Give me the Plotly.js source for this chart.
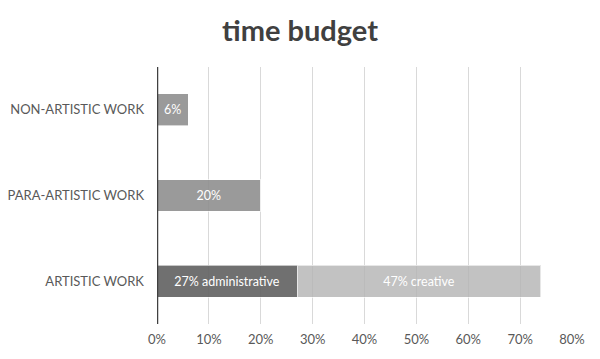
<!DOCTYPE html>
<html><head><meta charset="utf-8">
<script src="https://cdn.plot.ly/plotly-3.0.1.min.js"></script>
<style>html,body{margin:0;padding:0;background:#fff}#chart{width:600px;height:359px}</style>
</head><body><div id="chart"></div>
<script>
const categories = ["ARTISTIC WORK", "PARA-ARTISTIC WORK", "NON-ARTISTIC WORK"];
const baseValues = [27, 20, 6];
const baseLabels = ["27% administrative", "20%", "6%"];
const creativeValues = [47, 0, 0];
const creativeLabels = ["47% creative", "", ""];
const xTickVals = [0, 10, 20, 30, 40, 50, 60, 70, 80];
const xTickText = ["0%", "10%", "20%", "30%", "40%", "50%", "60%", "70%", "80%"];

const font = "Lato, 'Open Sans', sans-serif";
const traces = [
  {
    type: "bar", orientation: "h", y: categories, x: baseValues,
    text: baseLabels, textposition: "inside", insidetextanchor: "middle",
    textfont: {color: "#ffffff", size: 12.5, family: font},
    marker: {color: ["rgba(96,96,96,0.9)", "rgba(140,140,140,0.88)", "rgba(140,140,140,0.88)"],
             line: {color: "rgba(255,255,255,0.6)", width: 1}},
    hoverinfo: "none"
  },
  {
    type: "bar", orientation: "h", y: categories, x: creativeValues,
    text: creativeLabels, textposition: "inside", insidetextanchor: "middle",
    textfont: {color: "#ffffff", size: 12.5, family: font},
    marker: {color: "rgba(180,180,180,0.82)", line: {color: "rgba(255,255,255,0.6)", width: 1}},
    hoverinfo: "none"
  }
];
const layout = {
  width: 600, height: 359,
  margin: {l: 157, r: 28, t: 67, b: 35},
  paper_bgcolor: "#ffffff", plot_bgcolor: "#ffffff",
  barmode: "stack", bargap: 0.63, showlegend: false,
  font: {family: font, color: "#595959", size: 13},
  title: {text: "<b>time budget</b>", x: 0.5, xref: "container", xanchor: "center",
          y: 0.915, yref: "container", yanchor: "middle",
          font: {family: font, size: 29, color: "#404040"}},
  xaxis: {range: [0, 80], tickvals: xTickVals, ticktext: xTickText,
          showgrid: true, gridcolor: "#d9d9d9", gridwidth: 1,
          zeroline: false, showline: false, fixedrange: true,
          tickfont: {size: 13, color: "#595959"}, ticks: "", ticklabelstandoff: 6},
  yaxis: {categoryorder: "array", categoryarray: categories,
          showgrid: false, zeroline: false, showline: false,
          ticks: "", tickfont: {size: 13, color: "#595959"}, ticklabelstandoff: 12},
  shapes: [{type: "line", xref: "x", yref: "paper", x0: 0, x1: 0, y0: 0, y1: 1,
            line: {color: "#404040", width: 2.5}, layer: "above"}]
};
Plotly.newPlot("chart", traces, layout, {displayModeBar: false, staticPlot: true});
</script></body></html>
